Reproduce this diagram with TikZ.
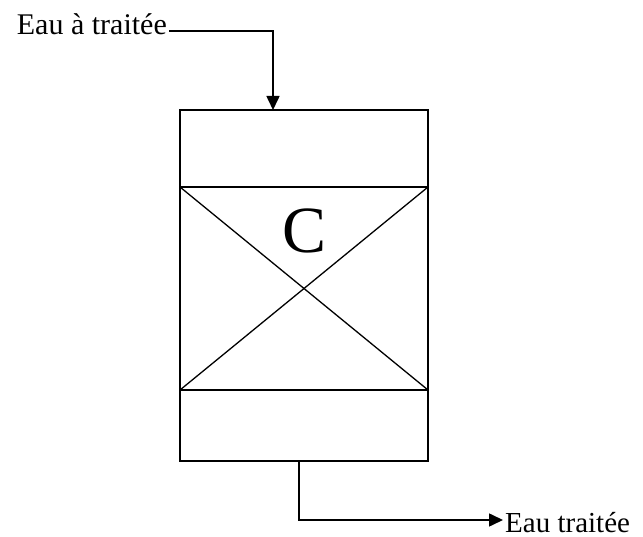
\documentclass[tikz,border=0pt]{standalone}
\usepackage{fontspec}
\setmainfont{Liberation Serif}
\usetikzlibrary{arrows.meta, positioning, calc}

\tikzset{
  bloc/.style={draw, line width=1.6pt, minimum width=248pt, inner sep=0pt, outer sep=0pt},
  etiquette/.style={font=\fontsize{29}{34}\selectfont, inner sep=2pt},
  fleche/.style={line width=1.6pt, -{Triangle[length=14pt, width=13pt]}}
}

\begin{document}
\begin{tikzpicture}[x=1pt, y=-1pt]
    \useasboundingbox (0,0) rectangle (643,537);
    % Colonne
    \node[bloc, minimum height=77pt] (haut) at (304,148.5) {};
    \node[bloc, minimum height=203pt] (lit) at (304,288.5) {};
    \node[bloc, minimum height=71pt] (bas) at (304,425.5) {};
    % Garnissage
    \draw[line width=1.3pt] (lit.north west) -- (lit.south east);
    \draw[line width=1.3pt] (lit.south west) -- (lit.north east);
    \node[font=\fontsize{66}{66}\selectfont, fill=white, inner sep=1pt] (charbon) at (305,231) {C};
    % Entree
    \node[etiquette, font=\fontsize{30}{35}\selectfont, anchor=base east] (entree) at (169,35) {Eau à traitée};
    \coordinate (coude) at (273,31);
    \draw[fleche] (entree.east |- coude) -- (coude) -- (haut.north -| coude);
    % Sortie
    \node[etiquette, anchor=base west] (sortie) at (503,532) {Eau traitée};
    \coordinate (pied) at (299,520);
    \draw[fleche] (bas.south -| pied) -- (pied) -- (sortie.west |- pied);
\end{tikzpicture}
\end{document}
